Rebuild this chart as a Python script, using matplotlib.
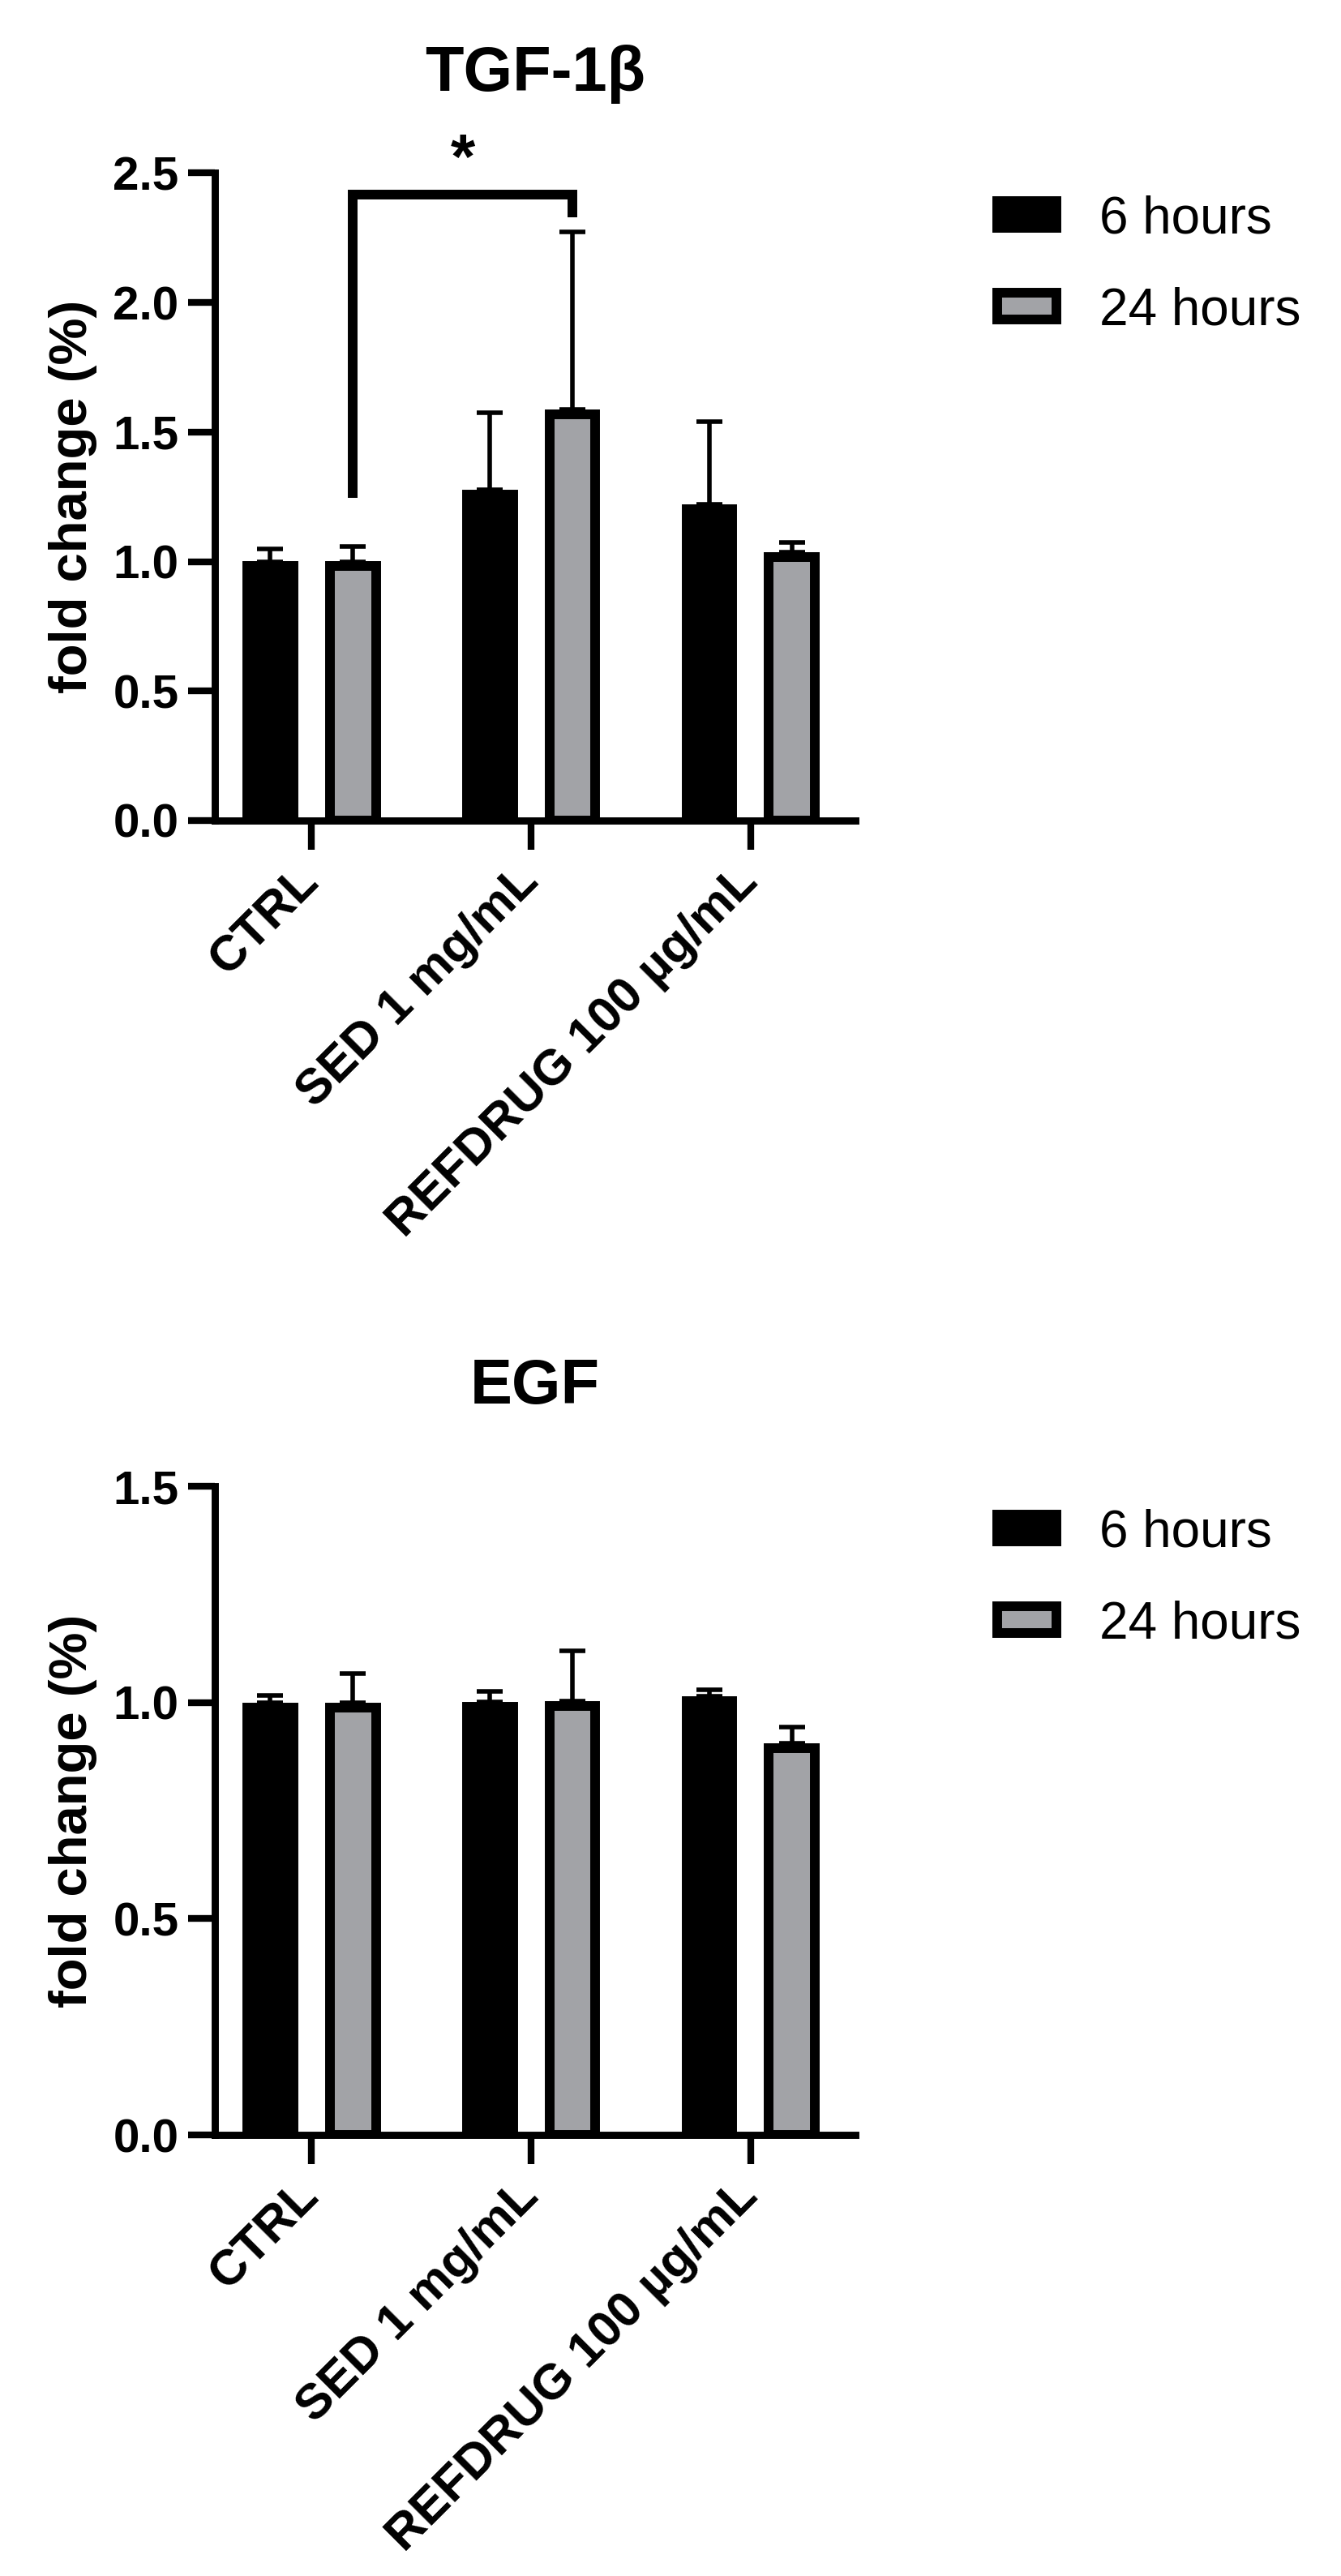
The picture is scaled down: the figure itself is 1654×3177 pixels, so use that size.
import matplotlib
matplotlib.use('Agg')
import matplotlib.pyplot as plt
import numpy as np
from matplotlib.ticker import FormatStrFormatter, MultipleLocator

plt.rcParams['font.family'] = ['Liberation Sans', 'DejaVu Sans']

# data (mean and upper SD)
groups = ['CTRL', 'SED 1 mg/mL', 'REFDRUG 100 µg/mL']
series = ['6 hours', '24 hours']

tgf_6h = [1.00, 1.276, 1.221]
tgf_6h_sd = [0.049, 0.299, 0.319]
tgf_24h = [1.00, 1.587, 1.035]
tgf_24h_sd = [0.057, 0.687, 0.039]

egf_6h = [1.00, 1.002, 1.015]
egf_6h_sd = [0.016, 0.024, 0.015]
egf_24h = [1.00, 1.004, 0.906]
egf_24h_sd = [0.067, 0.115, 0.037]

# significance: CTRL 24h vs SED 24h
sig_groups = (0, 1)
sig_y = [1.247, 2.418, 2.33]  # left foot, top, right foot
sig_text = '*'
sig_text_y = 2.48

DPI = 200
BLACK = '#000000'
GREY = '#a2a3a7'
EDGE_LW = 4.3
BAR_W = 0.21
OFF = 0.188

fig = plt.figure(figsize=(1654 / DPI, 3177 / DPI), dpi=DPI)
ax1 = fig.add_axes([0.1602, 0.6815, 0.4776, 0.2513])
ax2 = fig.add_axes([0.1602, 0.1712, 0.4776, 0.2518])


def draw_panel(ax, v6, sd6, v24, sd24, ymax, title):
    ax.set_xlim(-0.44, 2.476)
    ax.set_ylim(0, ymax)
    x = np.arange(len(groups))
    # outline is stroked on the border, pull bar top down so outer edge sits on the value
    half = EDGE_LW * DPI / 72 / 2 / (ax.bbox.height / ymax)
    for off, vals, sd, col, lab in [(-OFF, v6, sd6, BLACK, series[0]),
                                    (OFF, v24, sd24, GREY, series[1])]:
        ax.errorbar(x + off, vals, yerr=[np.zeros(len(vals)), sd], fmt='none',
                    ecolor='black', elinewidth=2.0, capsize=5.6, capthick=2.0, zorder=1)
        ax.bar(x + off, np.array(vals) - half, BAR_W, color=col, edgecolor='black',
               linewidth=EDGE_LW, label=lab, zorder=2)

    for s in ['top', 'right']:
        ax.spines[s].set_visible(False)
    for s in ['left', 'bottom']:
        ax.spines[s].set_linewidth(3.2)
    ax.yaxis.set_major_locator(MultipleLocator(0.5))
    ax.yaxis.set_major_formatter(FormatStrFormatter('%.1f'))
    ax.tick_params(axis='y', length=12, width=3, pad=4, labelsize=21)
    ax.tick_params(axis='x', length=13, width=3, pad=11, labelsize=22)
    for t in ax.get_yticklabels():
        t.set_fontweight('bold')
    ax.set_xticks(x)
    ax.set_xticklabels(groups, rotation=45, ha='right', va='center',
                       rotation_mode='anchor', fontweight='bold')

    ax.set_ylabel('fold change (%)', fontsize=23.5, fontweight='bold')
    ax.yaxis.set_label_coords(-0.184, 0.5)
    ax.set_title(title, fontsize=28, fontweight='bold', pad=36.6)

    ax.legend(loc='upper left', bbox_to_anchor=(1.2215, 0.966), frameon=False,
              fontsize=23, handlelength=1.14, handleheight=0.42, handletextpad=0.83,
              labelspacing=0.83, borderpad=0, borderaxespad=0)


draw_panel(ax1, tgf_6h, tgf_6h_sd, tgf_24h, tgf_24h_sd, 2.5, 'TGF-1β')
draw_panel(ax2, egf_6h, egf_6h_sd, egf_24h, egf_24h_sd, 1.5, 'EGF')

# bracket + star on TGF panel
x0 = sig_groups[0] + OFF
x1 = sig_groups[1] + OFF
ax1.plot([x0, x0, x1, x1], [sig_y[0], sig_y[1], sig_y[1], sig_y[2]], color='black',
         lw=EDGE_LW, clip_on=False, solid_joinstyle='miter', solid_capstyle='butt', zorder=3)
ax1.text((x0 + x1) / 2, sig_text_y, sig_text, ha='center', va='baseline',
         fontsize=28, fontweight='bold', clip_on=False)

fig.savefig('out.png', dpi=DPI)
plt.close(fig)
